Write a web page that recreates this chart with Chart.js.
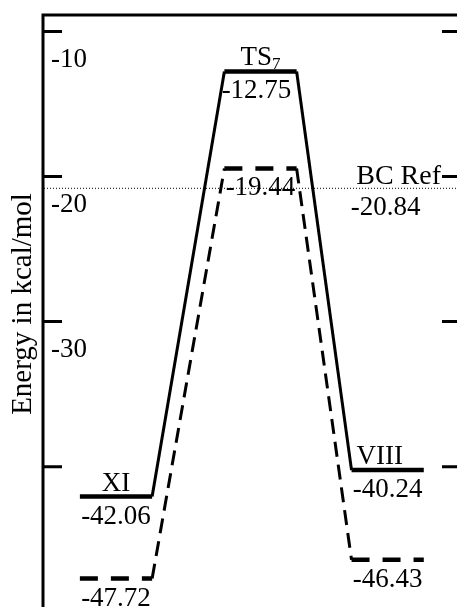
<!DOCTYPE html>
<html>
<head>
<meta charset="utf-8">
<script src="https://cdn.jsdelivr.net/npm/chart.js@4/dist/chart.umd.min.js"></script>
<style>
  html, body { margin: 0; padding: 0; overflow: hidden; background: #fff; }
  canvas { display: block; }
</style>
</head>
<body>
<canvas id="energyChart" width="462" height="607"></canvas>
<script>
// data
const states = ["XI", "TS7", "VIII"];
const coord = [1, 2, 2.88];                  // reaction coordinate of each state
const energySolid = [-42.06, -12.75, -40.24];
const energyDashed = [-47.72, -19.44, -46.43];
const yTicks = [-10, -20, -30, -40];
const yTickLabels = ["-10", "-20", "-30", ""];  // -40 has no label
const bcRef = -20.84;
const bcRefLabel = "BC Ref";
const yAxisTitle = "Energy in kcal/mol";

const HALF = 0.25;
const FONT = "Liberation Serif, Times New Roman, serif";

const pathPoints = (function(energies) {
    let pts = [];
    coord.forEach((c, i) => {
        pts.push({x: c - HALF, y: energies[i]});
        pts.push({x: c + HALF, y: energies[i]});
    });
    return pts;
});

const isLevel = (ctx) => ctx.p0.parsed.y === ctx.p1.parsed.y;

const framePlugin = {
    id: "frame",
    beforeDatasetsDraw(chart) {
        const {ctx, chartArea, scales} = chart;
        const y = scales.y;
        ctx.save();
        // BC reference dotted line
        let yr = y.getPixelForValue(bcRef);
        ctx.strokeStyle = "#000";
        ctx.lineWidth = 1;
        ctx.setLineDash([1, 2]);
        ctx.beginPath();
        ctx.moveTo(chartArea.left + 1, yr - 0.5);
        ctx.lineTo(chartArea.right, yr - 0.5);
        ctx.stroke();
        ctx.setLineDash([]);

        // axis lines
        ctx.lineWidth = 3;
        ctx.beginPath();
        ctx.moveTo(chartArea.left, chartArea.top - 1.5);
        ctx.lineTo(chartArea.left, chartArea.bottom);
        ctx.moveTo(chartArea.left - 1.5, chartArea.top);
        ctx.lineTo(chartArea.right + 2, chartArea.top);
        ctx.stroke();

        // inward ticks and labels
        ctx.font = "27px " + FONT;
        ctx.fillStyle = "#000";
        ctx.textAlign = "left";
        ctx.textBaseline = "alphabetic";
        yTicks.forEach((t, i) => {
            let py = y.getPixelForValue(t);
            ctx.beginPath();
            ctx.moveTo(chartArea.left, py);
            ctx.lineTo(chartArea.left + 19, py);
            ctx.moveTo(chartArea.right - 18, py);
            ctx.lineTo(chartArea.right, py);
            ctx.stroke();
            ctx.fillText(yTickLabels[i], chartArea.left + 8, py + 35);
        });

        // axis title
        ctx.save();
        ctx.translate(31, (chartArea.top + chartArea.bottom) / 2 - 7);
        ctx.rotate(-Math.PI / 2);
        ctx.textAlign = "center";
        ctx.font = "29px " + FONT;
        ctx.fillText(yAxisTitle, 0, 0);
        ctx.restore();
        ctx.restore();
    },
    afterDatasetsDraw(chart) {
        const {ctx, chartArea, scales} = chart;
        const x = scales.x, y = scales.y;
        ctx.save();
        ctx.fillStyle = "#000";
        ctx.textBaseline = "alphabetic";
        ctx.textAlign = "center";
        const nameShift = [0, 0, -8];

        states.forEach((name, i) => {
            let cx = x.getPixelForValue(coord[i]);
            let ys = y.getPixelForValue(energySolid[i]);
            let yd = y.getPixelForValue(energyDashed[i]);

            // state name, trailing digits as subscript
            let m = name.match(/^(\D+)(\d*)$/);
            ctx.font = "27px " + FONT;
            let wBase = ctx.measureText(m[1]).width;
            ctx.font = "17px " + FONT;
            let wSub = m[2] ? ctx.measureText(m[2]).width : 0;
            let left = cx + nameShift[i] - (wBase + wSub) / 2;
            ctx.textAlign = "left";
            ctx.font = "27px " + FONT;
            ctx.fillText(m[1], left, ys - 6);
            if (m[2]) {
                ctx.font = "17px " + FONT;
                ctx.fillText(m[2], left + wBase, ys - 2);
            }

            // values under the levels
            ctx.textAlign = "center";
            ctx.font = "27px " + FONT;
            ctx.fillText(energySolid[i].toFixed(2), cx - (i === 1 ? 4 : 0), ys + 27);
            ctx.fillText(energyDashed[i].toFixed(2), cx, yd + 27);
        });

        // BC reference label
        let yr = y.getPixelForValue(bcRef);
        ctx.font = "28px " + FONT;
        ctx.textAlign = "right";
        ctx.fillText(bcRefLabel, chartArea.right - 19, yr - 5);
        ctx.font = "27px " + FONT;
        ctx.textAlign = "center";
        ctx.fillText(bcRef.toFixed(2), x.getPixelForValue(coord[2]) - 2, yr + 26);
        ctx.restore();
    }
};

let data = {
    datasets: [{
        label: "solid",
        data: pathPoints(energySolid),
        showLine: true,
        borderColor: "#000",
        pointRadius: 0,
        tension: 0,
        segment: {
            borderWidth: ctx => isLevel(ctx) ? 4.5 : 3,
        }
    },
    {
        label: "dashed",
        data: pathPoints(energyDashed),
        showLine: true,
        borderColor: "#000",
        pointRadius: 0,
        tension: 0,
        segment: {
            borderWidth: ctx => isLevel(ctx) ? 4.5 : 3,
            borderDash: ctx => isLevel(ctx) ? [18, 13] : [15, 8],
        }
    }]
};

let options = {
    responsive: false,
    animation: false,
    layout: {
        padding: {left: 43, top: 15, right: 2, bottom: 0}
    },
    plugins: {
        legend: {display: false},
        tooltip: {enabled: false}
    },
    scales: {
        x: {type: "linear", min: 0.4948, max: 3.3806, display: false},
        y: {type: "linear", min: -49.68, max: -8.855, display: false}
    }
};

let energyChart = new Chart(document.getElementById("energyChart").getContext("2d"), {
    type: "scatter",
    data: data,
    options: options,
    plugins: [framePlugin]
});
</script>
</body>
</html>
